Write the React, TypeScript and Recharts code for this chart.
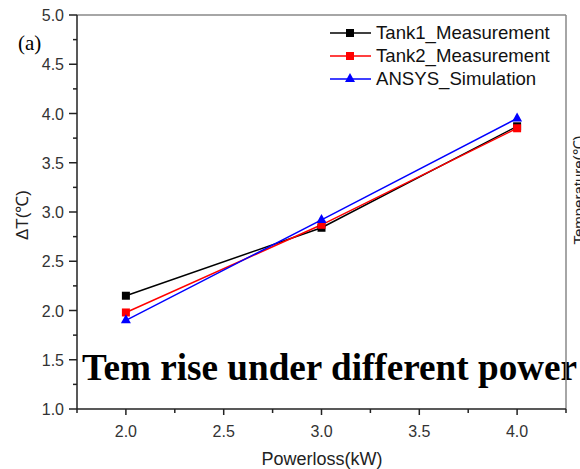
import { Customized, Legend, Line, LineChart, ReferenceLine, XAxis, YAxis } from "recharts";

const powerloss = [2.0, 3.0, 4.0];
const tank1 = [2.15, 2.84, 3.87];
const tank2 = [1.98, 2.87, 3.85];
const ansys = [1.9, 2.92, 3.95];

const xTicks = [1.75, 2.0, 2.25, 2.5, 2.75, 3.0, 3.25, 3.5, 3.75, 4.0, 4.25];
const yTicks = [1.0, 1.25, 1.5, 1.75, 2.0, 2.25, 2.5, 2.75, 3.0, 3.25, 3.5, 3.75, 4.0, 4.25, 4.5, 4.75, 5.0];

const series = [
  { key: "tank1", name: "Tank1_Measurement", color: "#000000", marker: "square" },
  { key: "tank2", name: "Tank2_Measurement", color: "#ff0000", marker: "square" },
  { key: "ansys", name: "ANSYS_Simulation", color: "#0000ff", marker: "triangle" },
];

const data = powerloss.map((x, i) => ({
  x,
  tank1: tank1[i],
  tank2: tank2[i],
  ansys: ansys[i],
}));

const AXIS = "#222";
const TICK_TEXT = "#333";
const isMajor = (v: number) => Math.abs(v * 2 - Math.round(v * 2)) < 1e-6;

function XTick({ x, y, payload }: any) {
  const major = isMajor(payload.value);
  return (
    <g>
      <line x1={x} x2={x} y1={y} y2={y + (major ? 6 : 4)} stroke={AXIS} strokeWidth={1.5} />
      {major && (
        <text x={x} y={y + 28} textAnchor="middle" fontSize={16} fill={TICK_TEXT} fontFamily="Arial, Liberation Sans, sans-serif">
          {payload.value.toFixed(1)}
        </text>
      )}
    </g>
  );
}

function YTick({ x, y, payload }: any) {
  const major = isMajor(payload.value);
  return (
    <g>
      <line x1={x} x2={x - (major ? 8 : 4)} y1={y} y2={y} stroke={AXIS} strokeWidth={1.5} />
      {major && (
        <text x={x - 13} y={y + 6} textAnchor="end" fontSize={16} fill={TICK_TEXT} fontFamily="Arial, Liberation Sans, sans-serif">
          {payload.value.toFixed(1)}
        </text>
      )}
    </g>
  );
}

const squareDot = (color: string) => (props: any) => {
  const { cx, cy, index } = props;
  if (cx == null || cy == null) return <g key={index} />;
  return <rect key={index} x={cx - 4} y={cy - 4} width={8} height={8} fill={color} />;
};

const triangleDot = (color: string) => (props: any) => {
  const { cx, cy, index } = props;
  if (cx == null || cy == null) return <g key={index} />;
  return <polygon key={index} points={`${cx},${cy - 6} ${cx - 5},${cy + 3} ${cx + 5},${cy + 3}`} fill={color} />;
};

function LegendBox() {
  return (
    <div style={{ fontFamily: "Arial, Liberation Sans, sans-serif", fontSize: 18.6, color: "#111" }}>
      {series.map((s) => (
        <div key={s.key} style={{ display: "flex", alignItems: "center", height: 23 }}>
          <svg width={48} height={14} style={{ display: "block" }}>
            <line x1={2} x2={43} y1={7} y2={7} stroke={s.color} strokeWidth={1.5} />
            {s.marker === "square" ? (
              <rect x={18} y={3} width={8} height={8} fill={s.color} />
            ) : (
              <polygon points="22,1 17,10 27,10" fill={s.color} />
            )}
          </svg>
          <span>{s.name}</span>
        </div>
      ))}
    </div>
  );
}

function Overlay() {
  return (
    <g>
      <text x={18} y={50} fontSize={21} fontFamily="Liberation Serif, Times New Roman, serif" fill="#000">
        (a)
      </text>
      <text
        x={22}
        y={215}
        transform="rotate(-90 22 215)"
        dy={6}
        textAnchor="middle"
        fontSize={17}
        fill="#222"
        fontFamily="Arial, Liberation Sans, sans-serif"
      >
        ΔT(℃)
      </text>
      <text x={322} y={465} textAnchor="middle" fontSize={18} fill="#222" fontFamily="Arial, Liberation Sans, sans-serif">
        Powerloss(kW)
      </text>
      <text
        x={584}
        y={190}
        transform="rotate(-90 584 190)"
        textAnchor="middle"
        fontSize={15}
        fill="#222"
        fontFamily="Arial, Liberation Sans, sans-serif"
      >
        Temperature(℃)
      </text>
      <text x={82} y={380} fontSize={37.2} fontWeight="bold" fill="#000" fontFamily="Liberation Serif, Times New Roman, serif">
        Tem rise under different power
      </text>
    </g>
  );
}

export default function App() {
  return (
    <div style={{ position: "absolute", left: 0, top: 0, width: 580, height: 469, background: "#fff" }}>
      <LineChart width={580} height={469} data={data} margin={{ top: 15, right: 14, bottom: 0, left: 0 }}>
        <XAxis
          dataKey="x"
          type="number"
          domain={[1.75, 4.25]}
          ticks={xTicks}
          interval={0}
          height={60}
          tickSize={0}
          tickMargin={0}
          tickLine={false}
          axisLine={{ stroke: AXIS, strokeWidth: 1.5 }}
          tick={<XTick />}
          allowDataOverflow
        />
        <YAxis
          type="number"
          domain={[1, 5]}
          ticks={yTicks}
          interval={0}
          width={77}
          tickSize={0}
          tickMargin={0}
          tickLine={false}
          axisLine={{ stroke: AXIS, strokeWidth: 1.5 }}
          tick={<YTick />}
          allowDataOverflow
        />
        <ReferenceLine y={5} stroke="#888" strokeWidth={1.5} />
        <ReferenceLine x={4.25} stroke="#888" strokeWidth={1.5} />
        {series.map((s) => (
          <Line
            key={s.key}
            dataKey={s.key}
            name={s.name}
            stroke={s.color}
            strokeWidth={1.5}
            isAnimationActive={false}
            dot={s.marker === "square" ? squareDot(s.color) : triangleDot(s.color)}
            activeDot={false}
          />
        ))}
        <Legend
          layout="vertical"
          align="center"
          verticalAlign="middle"
          content={<LegendBox />}
          wrapperStyle={{ top: 21, left: 328, width: 240 }}
        />
        <Customized component={<Overlay />} />
      </LineChart>
    </div>
  );
}
